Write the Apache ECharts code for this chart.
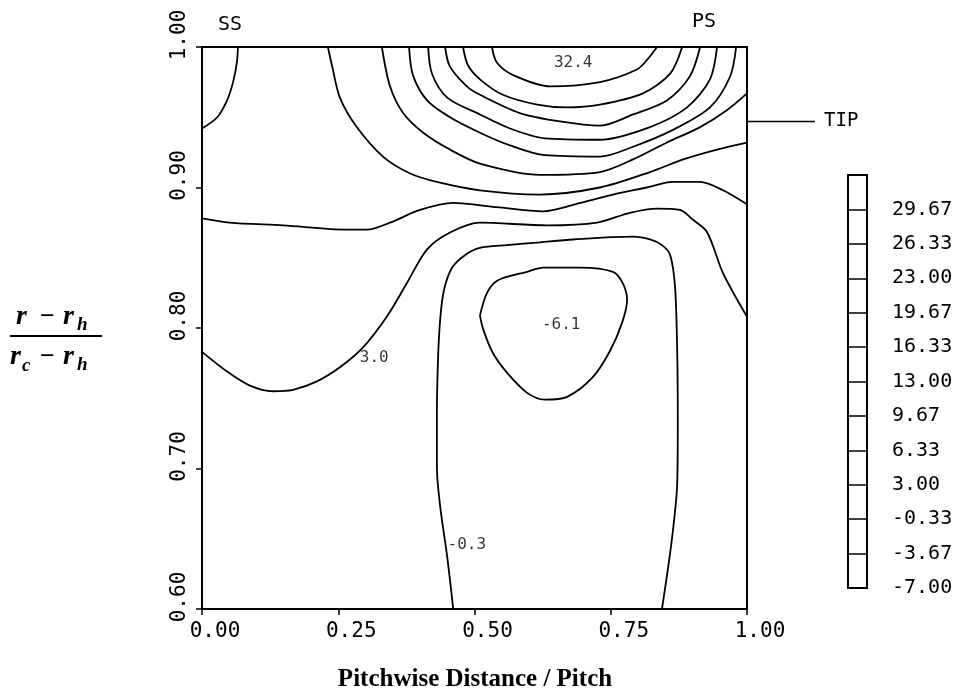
<!DOCTYPE html>
<html>
<head>
<meta charset="utf-8">
<script src="https://cdn.jsdelivr.net/npm/echarts@6/dist/echarts.min.js"></script>
<style>
  html, body { margin: 0; padding: 0; background: #fff; }
  #chart { width: 964px; height: 696px; }
</style>
</head>
<body>
<div id="chart"></div>
<script>
// contour traces, [pitchwise distance / pitch, (r - rh) / (rc - rh)]
const contourSS = [[0.066, 1.0], [0.064, 0.989], [0.057, 0.975], [0.046, 0.962], [0.028, 0.950], [0, 0.942]];
const contourL1 = [[0.231, 1.0], [0.239, 0.986], [0.253, 0.964], [0.284, 0.943], [0.332, 0.922], [0.382, 0.910],
  [0.431, 0.904], [0.510, 0.898], [0.620, 0.895], [0.730, 0.900], [0.822, 0.911], [0.883, 0.920], [0.945, 0.927], [1.0, 0.932]];
const contourL2 = [[0.330, 1.0], [0.345, 0.972], [0.369, 0.953], [0.406, 0.939], [0.455, 0.927], [0.510, 0.917],
  [0.620, 0.909], [0.730, 0.911], [0.791, 0.920], [0.853, 0.932], [0.914, 0.943], [0.963, 0.955], [1.0, 0.967]];
const contourL3 = [[0.380, 1.0], [0.387, 0.980], [0.413, 0.962], [0.455, 0.950], [0.510, 0.939], [0.565, 0.930],
  [0.629, 0.923], [0.730, 0.922], [0.791, 0.929], [0.864, 0.941], [0.932, 0.957], [0.969, 0.979], [0.980, 1.0]];
const contourL4 = [[0.415, 1.0], [0.422, 0.981], [0.450, 0.964], [0.510, 0.952], [0.565, 0.942], [0.629, 0.935],
  [0.730, 0.934], [0.822, 0.943], [0.890, 0.957], [0.932, 0.977], [0.945, 1.0]];
const contourL5 = [[0.446, 1.0], [0.455, 0.986], [0.486, 0.972], [0.510, 0.966], [0.583, 0.953], [0.657, 0.947],
  [0.730, 0.944], [0.791, 0.952], [0.853, 0.962], [0.895, 0.979], [0.914, 1.0]];
const contourL6 = [[0.479, 1.0], [0.488, 0.987], [0.510, 0.977], [0.552, 0.966], [0.615, 0.959], [0.670, 0.957],
  [0.730, 0.959], [0.809, 0.967], [0.859, 0.981], [0.881, 1.0]];
const contourPeak = [[0.532, 1.0], [0.541, 0.989], [0.571, 0.980], [0.639, 0.972], [0.730, 0.975], [0.798, 0.984],
  [0.817, 0.991], [0.835, 1.0]];
const contourMid = [[0, 0.878], [0.051, 0.875], [0.149, 0.873], [0.266, 0.870], [0.303, 0.870], [0.345, 0.875],
  [0.400, 0.884], [0.461, 0.889], [0.541, 0.886], [0.626, 0.883], [0.694, 0.889], [0.754, 0.895], [0.816, 0.900],
  [0.864, 0.904], [0.914, 0.904], [0.956, 0.898], [1.0, 0.888]];
const contour3 = [[0, 0.783], [0.046, 0.769], [0.088, 0.759], [0.130, 0.755], [0.167, 0.756], [0.211, 0.762],
  [0.253, 0.772], [0.295, 0.786], [0.339, 0.808], [0.376, 0.832], [0.413, 0.856], [0.455, 0.868], [0.510, 0.875],
  [0.633, 0.873], [0.725, 0.875], [0.785, 0.882], [0.835, 0.885], [0.877, 0.884], [0.901, 0.877], [0.927, 0.868],
  [0.956, 0.839], [1.0, 0.808]];
const contourM03 = [[0.461, 0.6], [0.450, 0.637], [0.437, 0.673], [0.431, 0.701], [0.431, 0.737], [0.433, 0.777],
  [0.437, 0.806], [0.444, 0.827], [0.459, 0.843], [0.483, 0.852], [0.510, 0.857], [0.560, 0.859], [0.620, 0.861],
  [0.681, 0.863], [0.791, 0.865], [0.822, 0.863], [0.844, 0.859], [0.859, 0.852], [0.868, 0.829], [0.872, 0.782],
  [0.873, 0.735], [0.872, 0.690], [0.862, 0.649], [0.844, 0.6]];
const contourM61 = [[0.510, 0.809], [0.523, 0.825], [0.543, 0.834], [0.596, 0.840], [0.626, 0.843], [0.694, 0.843],
  [0.754, 0.840], [0.772, 0.832], [0.780, 0.820], [0.771, 0.804], [0.749, 0.784], [0.717, 0.765], [0.670, 0.751],
  [0.629, 0.749], [0.596, 0.754], [0.560, 0.768], [0.534, 0.782], [0.516, 0.799], [0.510, 0.809]];

const contourLabels = [
  { name: '32.4', value: [0.681, 0.989] },
  { name: '-6.1', value: [0.659, 0.802] },
  { name: '3.0', value: [0.316, 0.779] },
  { name: '-0.3', value: [0.486, 0.646] },
];

const colorbarLabels = ['-7.00', '-3.67', '-0.33', '3.00', '6.33', '9.67', '13.00', '16.33', '19.67', '23.00', '26.33', '29.67'];
const tipRadius = 0.947;

const MONO = '"DejaVu Sans Mono", monospace';
const SERIF = '"Liberation Serif", "DejaVu Serif", serif';

const chart = echarts.init(document.getElementById('chart'));

const contours = [contourSS, contourL1, contourL2, contourL3, contourL4, contourL5, contourL6, contourPeak,
  contourMid, contour3, contourM03, contourM61];

const lineSeries = contours.map((data) => ({
  type: 'line',
  data,
  smooth: 0.3,
  symbol: 'none',
  lineStyle: { color: '#000', width: 1.8 },
  silent: true,
}));

// math-style y label pieces
const mathText = (text, x, y, size, italic = true) => ({
  type: 'text',
  x,
  y,
  style: {
    text,
    fill: '#000',
    font: `${italic ? 'italic ' : ''}bold ${size}px ${SERIF}`,
    verticalAlign: 'middle',
  },
});

const option = {
  animation: false,
  backgroundColor: '#fff',
  grid: [
    { left: 202, top: 47, width: 545, height: 562, show: true, borderColor: '#000', borderWidth: 2, backgroundColor: 'transparent' },
    { left: 848, top: 175, width: 19, height: 413, show: true, borderColor: '#000', borderWidth: 2, backgroundColor: 'transparent' },
    // wider twin of the plot grid, used for the tip marker that sits outside the frame
    { left: 202, top: 47, width: 613, height: 562, show: false },
  ],
  xAxis: [
    {
      type: 'value',
      min: 0,
      max: 1,
      interval: 0.25,
      axisLine: { lineStyle: { color: '#000', width: 2 } },
      axisTick: { length: 6, lineStyle: { color: '#000', width: 1.5 } },
      splitLine: { show: false },
      axisLabel: {
        color: '#000',
        fontFamily: MONO,
        fontSize: 21,
        margin: 12,
        padding: [0, 0, 0, 26],
        formatter: (v) => v.toFixed(2),
      },
    },
    { type: 'value', gridIndex: 1, min: 0, max: 1, show: false },
    { type: 'value', gridIndex: 2, min: 0, max: 1.125, show: false },
  ],
  yAxis: [
    {
      type: 'value',
      min: 0.6,
      max: 1.0,
      interval: 0.1,
      axisLine: { lineStyle: { color: '#000', width: 2 } },
      axisTick: { length: 6, lineStyle: { color: '#000', width: 1.5 } },
      splitLine: { show: false },
      axisLabel: {
        color: '#000',
        fontFamily: MONO,
        fontSize: 21,
        rotate: 90,
        margin: 12,
        padding: [0, 0, 0, 24],
        formatter: (v) => v.toFixed(2),
      },
    },
    {
      type: 'category',
      gridIndex: 1,
      data: [...colorbarLabels, ''],
      boundaryGap: false,
      position: 'right',
      axisLine: { show: false },
      axisTick: { show: false },
      splitLine: { show: true, lineStyle: { color: '#000', width: 1.5 } },
      axisLabel: { color: '#000', fontFamily: MONO, fontSize: 20, margin: 25, interval: 0 },
    },
    { type: 'value', gridIndex: 2, min: 0.6, max: 1.0, show: false },
  ],
  series: [
    ...lineSeries,
    {
      type: 'line',
      xAxisIndex: 2,
      yAxisIndex: 2,
      data: [[1.0, tipRadius], [1.125, tipRadius]],
      symbol: 'none',
      lineStyle: { color: '#000', width: 1.5 },
      endLabel: { show: true, formatter: 'TIP', color: '#000', fontFamily: MONO, fontSize: 19, distance: 9 },
      silent: true,
    },
    {
      type: 'scatter',
      data: contourLabels,
      symbolSize: 1,
      itemStyle: { color: 'rgba(0,0,0,0)' },
      label: {
        show: true,
        position: 'inside',
        formatter: (p) => p.name,
        color: '#000',
        fontFamily: MONO,
        fontSize: 16,
      },
      silent: true,
    },
  ],
  graphic: [
    { type: 'text', x: 218, y: 25, style: { text: 'SS', fill: '#000', font: `20px ${MONO}`, verticalAlign: 'middle' } },
    { type: 'text', x: 692, y: 22, style: { text: 'PS', fill: '#000', font: `20px ${MONO}`, verticalAlign: 'middle' } },
    mathText('r', 16, 317, 28),
    mathText('\u2212', 40, 317, 26, false),
    mathText('r', 63, 317, 28),
    mathText('h', 77, 325, 19),
    { type: 'line', shape: { x1: 10, y1: 336, x2: 102, y2: 336 }, style: { stroke: '#000', lineWidth: 2 } },
    mathText('r', 10, 357, 28),
    mathText('c', 22, 366, 19),
    mathText('\u2212', 40, 357, 26, false),
    mathText('r', 63, 357, 28),
    mathText('h', 77, 365, 19),
    {
      type: 'text',
      x: 475,
      y: 680,
      style: {
        text: 'Pitchwise Distance / Pitch',
        fill: '#000',
        font: `bold 25px ${SERIF}`,
        align: 'center',
        verticalAlign: 'middle',
      },
    },
  ],
};

chart.setOption(option);
</script>
</body>
</html>
